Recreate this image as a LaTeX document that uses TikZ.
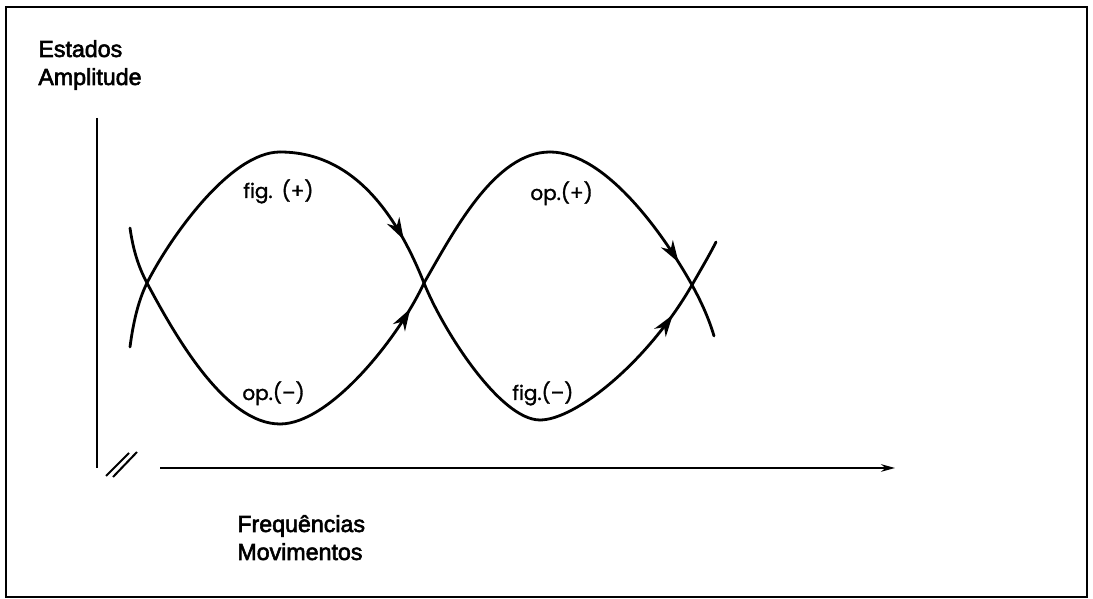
\documentclass[tikz,border=0pt]{standalone}
\usepackage{fontspec}
\setmainfont{Liberation Sans}
\newfontfamily\axfont{Liberation Sans}[FakeBold=2.5]
\newfontfamily\lblfont{Poppins}[FakeBold=1.5]
\usetikzlibrary{arrows.meta, decorations.markings, positioning}

\begin{document}
\begin{tikzpicture}[
    x=0.5pt, y=0.5pt,
    axis/.style={line width=1pt},
    curve/.style={line width=1.4pt, line cap=round},
    tipat/.style={postaction={decorate}, decoration={markings,
        mark=at position #1 with {\arrow{Stealth[length=11pt,width=7pt,inset=3.5pt]}}}},
    title/.style={font=\axfont\fontsize{11.6}{14}\selectfont, anchor=base west, inner sep=0pt},
    lbl/.style={font=\lblfont\fontsize{10}{12}\selectfont, anchor=base west, inner sep=0pt}
]
\useasboundingbox (0,0) rectangle (1093,599);
\draw[line width=1.2pt] (6,2) rectangle (1087,592);

% axis titles
\node[title] (est) at (38,542) {Estados};
\node[title, below=14pt of est.base west, anchor=base west] (amp) {Amplitude};
\node[title] (freq) at (237,67) {Frequências};
\node[title, below=14pt of freq.base west, anchor=base west] (mov) {Movimentos};

% axes
\coordinate (ytop) at (97,481);
\coordinate (ybot) at (97,131);
\coordinate (xbeg) at (160,131);
\coordinate (xend) at (895,131);
\draw[axis] (ytop) -- (ybot);
\draw[axis, -{Stealth[length=7pt,width=3.8pt]}] (xbeg) -- (xend);
\draw[axis] (106,123) -- (129,146);
\draw[axis] (113,122) -- (137,147);

% crossings, tops and bottoms
\coordinate (x1) at (147,316);
\coordinate (x2) at (424,316);
\coordinate (x3) at (692,314);
\coordinate (top1) at (280,447);
\coordinate (top2) at (550,447);
\coordinate (bot1) at (280,175);
\coordinate (bot2) at (540,179);

% first curve: fig.(+) then fig.(-)
\draw[curve] (130,252) .. controls (133,275) and (138,298) .. (x1)
  .. controls (169.5,360.5) and (230,447) .. (top1);
\draw[curve, tipat=0.77] (top1) .. controls (350,447) and (394.4,390.4) .. (x2);
\draw[curve] (x2) .. controls (442.5,269.5) and (500,179) .. (bot2);
\draw[curve, tipat=0.83] (bot2) .. controls (575,179) and (647,236) .. (x3);
\draw[curve] (x3) .. controls (702,331.4) and (710,345) .. (716,357);

% second curve: op.(-) then op.(+)
\draw[curve] (130,371) .. controls (133,350) and (138,333) .. (x1)
  .. controls (175.2,263.2) and (225,175) .. (bot1);
\draw[curve, tipat=0.86] (bot1) .. controls (330,175) and (398.8,261.4) .. (x2);
\draw[curve] (x2) .. controls (454,368) and (495,447) .. (top2);
\draw[curve, tipat=0.87] (top2) .. controls (605,447) and (663,366) .. (x3);
\draw[curve] (x3) .. controls (701.6,296.6) and (709,280) .. (714,263);

% curve labels
\node[lbl] (figp) at (243,401) {fig.\hspace{0.45em}(+)};
\node[lbl] (opm) at (242,199) {op.(–)};
\node[lbl] (opp) at (530,399) {op.(+)};
\node[lbl] (figm) at (512,199) {fig.(–)};
\end{tikzpicture}
\end{document}
